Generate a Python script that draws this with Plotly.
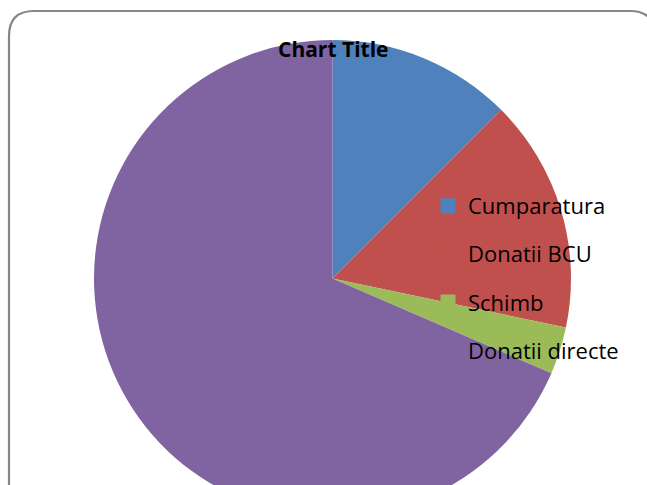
import plotly.graph_objects as go

labels = ["Cumparatura", "Donatii BCU", "Schimb", "Donatii directe"]
values = [12.5, 15.8, 3.2, 68.5]
colors = ["#4F81BD", "#C0504D", "#9BBB59", "#8064A2"]
title_text = "Chart Title"

W, H = 647, 520

def px(x):
    return x / W

def py(y):
    return 1 - y / H

# pie geometry (pixels)
cx, cy, r = 332.5, 278.5, 238.5

fig = go.Figure()
fig.add_trace(go.Pie(
    labels=labels, values=values, sort=False, direction="clockwise", rotation=0,
    marker=dict(colors=colors, line=dict(width=0)),
    textinfo="none", hoverinfo="label+value", showlegend=False,
    domain=dict(x=[px(cx - r), px(cx + r)], y=[py(cy + r), py(cy - r)]),
))

for i, (lab, col) in enumerate(zip(labels, colors)):
    fig.add_trace(go.Scatter(
        x=[None], y=[None], mode="markers", name=lab, legendgroup=f"g{i}",
        marker=dict(symbol="square", size=15, color=col),
    ))

# rounded border
L, T, R, B, rr = 9, 11, 655, 540, 25
path = (f"M {px(L)} {py(B)} L {px(L)} {py(T + rr)} "
        f"Q {px(L)} {py(T)} {px(L + rr)} {py(T)} "
        f"L {px(R - rr)} {py(T)} Q {px(R)} {py(T)} {px(R)} {py(T + rr)} "
        f"L {px(R)} {py(B)}")

fig.update_layout(
    width=W, height=H,
    margin=dict(l=0, r=0, t=0, b=0),
    paper_bgcolor="white", plot_bgcolor="white",
    xaxis=dict(visible=False), yaxis=dict(visible=False),
    font=dict(family="Open Sans", color="black"),
    shapes=[dict(type="path", path=path, xref="paper", yref="paper",
                 line=dict(color="#868686", width=2.2), layer="above")],
    annotations=[dict(text="<b>" + title_text + "</b>", x=px(333), y=py(49),
                      xref="paper", yref="paper", xanchor="center", yanchor="middle",
                      showarrow=False, font=dict(size=21, family="Open Sans", color="black"))],
    legend=dict(x=px(428), y=py(185), xanchor="left", yanchor="top",
                bgcolor="rgba(0,0,0,0)", borderwidth=0,
                font=dict(size=22, family="Open Sans", color="black"),
                tracegroupgap=16.5, itemsizing="trace"),
)

fig.write_html("out.html", config={"displayModeBar": False}, post_script=(
    "document.documentElement.style.overflow='hidden';"
    "document.body.style.overflow='hidden';document.body.style.margin='0';"))
